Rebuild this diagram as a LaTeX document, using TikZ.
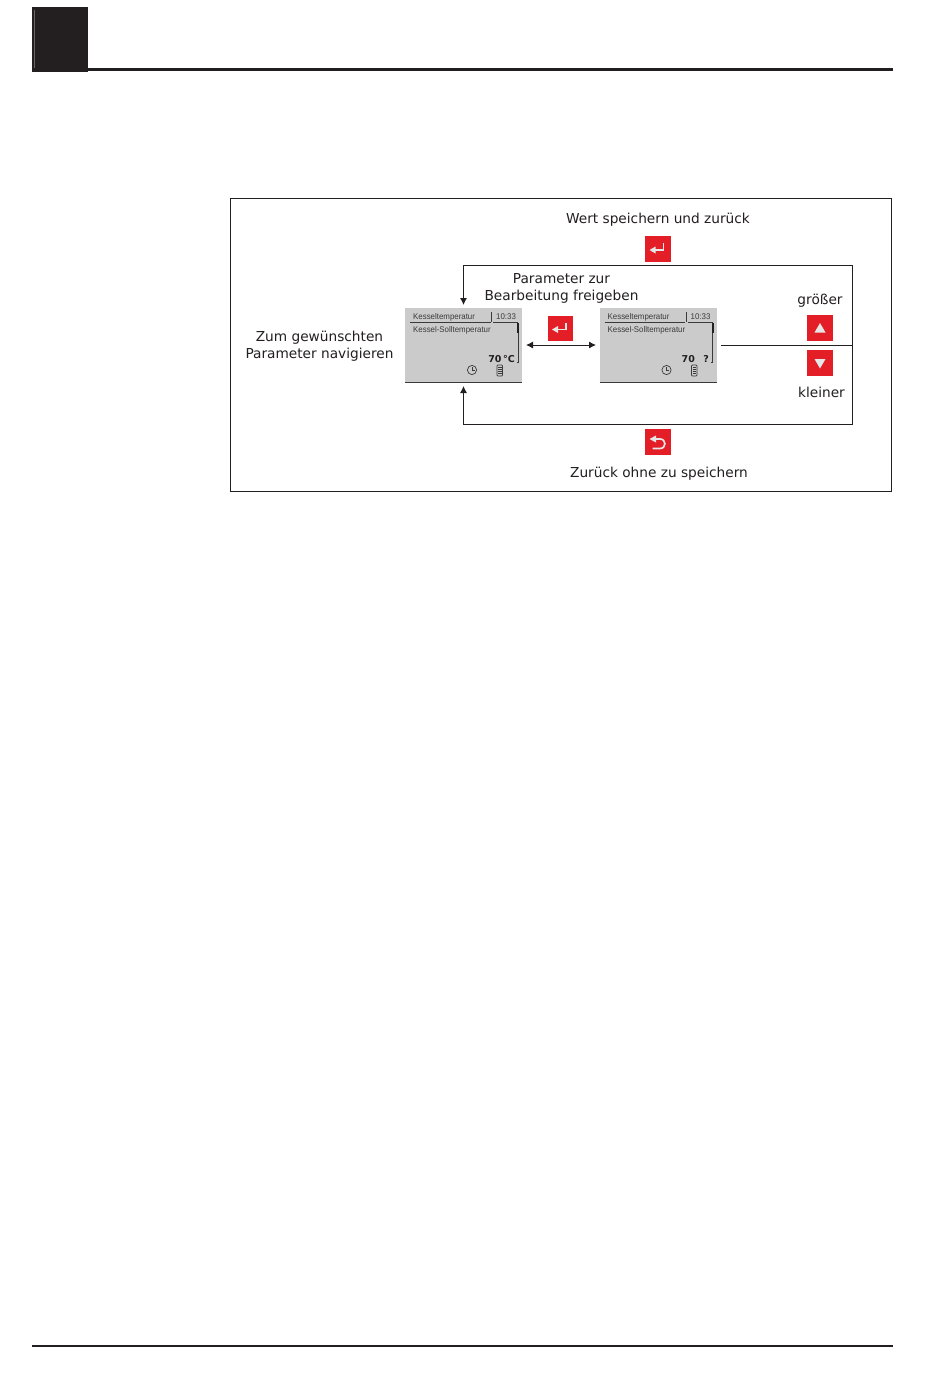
\documentclass[tikz,border=0pt]{standalone}
\usepackage{fontspec}
\setmainfont{DejaVu Sans}
\newfontfamily\lcdfont{Liberation Sans}
\newfontfamily\lcdbold{DejaVu Sans}
\definecolor{inkdark}{HTML}{231F20}
\definecolor{btnred}{HTML}{E31E26}
\definecolor{iconlight}{HTML}{E6E6E6}
\definecolor{lcdgrey}{HTML}{CBCBCB}
\definecolor{lcdink}{HTML}{3A3A3A}
\usetikzlibrary{arrows.meta}
\tikzset{
  label text/.style={font=\fontsize{13.7}{17}\selectfont, text=inkdark, align=center, inner sep=0pt},
  wire/.style={draw=inkdark, line width=0.9pt},
  tipped/.style={wire, >={Latex[length=7pt,width=7pt]}},
  btn/.style={fill=btnred, draw=none, minimum width=26pt, minimum height=26pt, inner sep=0pt},
  icon/.style={fill=iconlight, draw=none},
  iconline/.style={draw=iconlight, line width=1.7pt},
  lcd/.style={fill=lcdgrey, draw=none, minimum width=117pt, minimum height=74pt, inner sep=0pt},
  lcdtext/.style={font=\lcdfont\fontsize{8.3}{9}\selectfont, text=lcdink, inner sep=0pt, anchor=west, xscale=0.95},
  lcdval/.style={font=\lcdbold\bfseries\fontsize{9.5}{10}\selectfont, text=inkdark, inner sep=0pt},
  lcdrule/.style={draw=lcdink, line width=0.9pt},
  lcdthin/.style={draw=lcdink, line width=0.7pt}
}
\newcommand{\lcdscreen}[3]{% prefix, left x, value nodes
  \begin{scope}[shift={(#2,0)}]
    \node[lcd] (#1) at (58.5,345) {};
    \draw[draw=lcdink, line width=1.2pt] (0,382.2) -- (117,382.2);
    \node[lcdtext] (#1title) at (8,317.7) {Kesseltemperatur};
    \node[lcdtext] (#1time) at (91,317) {10:33};
    \node[lcdtext] (#1sub) at (8,330.2) {Kessel-Solltemperatur};
    \draw[lcdrule] (5,322.8) -- (85.5,322.8);
    \draw[lcdrule] (88,322.8) -- (113,322.8);
    \draw[lcdthin] (86.5,312) -- (86.5,322);
    \draw[draw=lcdink, line width=0.7pt] (113.3,323) -- (113.3,362) -- (111.5,362);
    \draw[draw=inkdark, line width=1.8pt] (113.3,323) -- (113.3,333);
    #3
    \draw[lcdthin] (67,370) circle (4.6);
    \draw[lcdthin] (67,367) -- (67,370.3) -- (69.5,370.3);
    \draw[lcdthin, rounded corners=0.8pt] (92,365) rectangle (97.5,376);
    \draw[draw=lcdink, line width=0.5pt] (93,367.5) -- (96.5,367.5) (93,369.5) -- (96.5,369.5) (93,371.5) -- (96.5,371.5) (93,373.5) -- (96.5,373.5);
  \end{scope}
}
\newcommand{\enterglyph}[2]{% centre x, centre y
  \begin{scope}[shift={(#1,#2)}]
    \draw[iconline] (5.5,-6) -- (5.5,1) -- (-4,1);
    \fill[icon] (-8.5,1) -- (-2.5,-2.5) -- (-2.5,4.5) -- cycle;
  \end{scope}
}
\begin{document}
\begin{tikzpicture}[x=1pt,y=-1pt]
\useasboundingbox[fill=white] (0,0) rectangle (950,1379);
% page furniture
\fill[inkdark] (31.5,7) rectangle (88,71.5);
\draw[draw=gray!80!black, line width=0.9pt] (34.5,10) -- (34.5,68);
\draw[draw=inkdark, line width=2.6pt] (88,69.7) -- (893,69.7);
\draw[draw=inkdark, line width=1.7pt] (32,1346) -- (893,1346);
% frame
\draw[draw=inkdark, line width=0.8pt] (230.5,198.5) rectangle (891.5,491.5);
% screens
\lcdscreen{scrA}{405}{%
  \node[lcdval, anchor=east] (scrAval) at (110,358.8) {70\,°C};
}
\lcdscreen{scrB}{599.5}{%
  \node[lcdval] (scrBval) at (88.8,358.8) {70};
  \node[lcdval] (scrBq) at (106.5,358.8) {?};
}
% connector anchors
\coordinate (topR) at (852.5,265.5);
\coordinate (topL) at (463.5,265.5);
\coordinate (botR) at (852.5,424.5);
\coordinate (botL) at (463.5,424.5);
\coordinate (midR) at (852.5,345.5);
\coordinate (scrAtop) at (463.5,305);
\coordinate (scrAbot) at (463.5,386);
\coordinate (midL) at (526,345);
\coordinate (midM) at (596,345);
\coordinate (scrBout) at (721,345.5);
\draw[tipped,->] (topR) -- (topL) -- (scrAtop);
\draw[tipped,->] (botR) -- (botL) -- (scrAbot);
\draw[wire] (topR) -- (botR);
\draw[wire] (scrBout) -- (midR);
\draw[tipped,<->] (midL) -- (midM);
% buttons
\node[btn] (btnSave) at (658,249) {};
\enterglyph{658}{249}
\node[btn, minimum width=25pt, minimum height=25pt] (btnEdit) at (560.5,328.5) {};
\enterglyph{560.5}{328.5}
\node[btn] (btnUp) at (820,328) {};
\fill[icon] (820,323) -- (825.5,332.5) -- (814.5,332.5) -- cycle;
\node[btn] (btnDown) at (820,362.5) {};
\fill[icon] (820,368.5) -- (825.5,359) -- (814.5,359) -- cycle;
\node[btn] (btnBack) at (658,442) {};
\draw[iconline] (654,439) -- (660,439) .. controls (666.5,439) and (666.5,448.5) .. (660,448.5) -- (652.5,448.5);
\fill[icon] (649.5,439) -- (656,435.5) -- (656,442.5) -- cycle;
% labels
\node[label text] (lblSave) at (658,219.5) {Wert speichern und zurück};
\node[label text] (lblEdit) at (561.5,288) {Parameter zur\\Bearbeitung freigeben};
\node[label text] (lblNav) at (319.5,346) {Zum gewünschten\\Parameter navigieren};
\node[label text] (lblUp) at (820,300.5) {größer};
\node[label text] (lblDown) at (821.5,392.5) {kleiner};
\node[label text] (lblBack) at (659,474) {Zurück ohne zu speichern};
\end{tikzpicture}
\end{document}
